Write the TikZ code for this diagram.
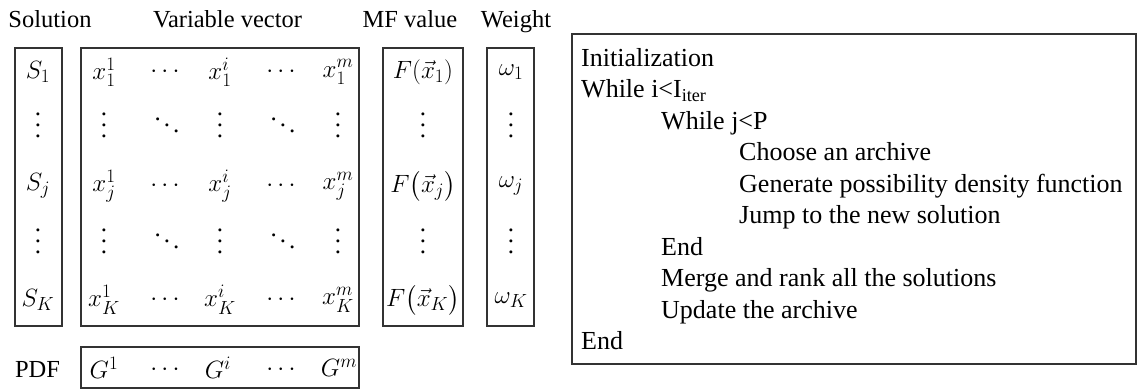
\RequirePackage{fix-cm}
\documentclass[tikz,border=0pt]{standalone}
\usepackage{amsmath}
\usepackage{fontspec}
\setmainfont{Liberation Serif}

% font sizes (1pt = one unit of the picture)
\newcommand\lblfont{\fontsize{24.5}{29}\selectfont}
\newcommand\cellfont{\fontsize{25}{29}\selectfont}
\newcommand\codefont{\fontsize{26}{31.5}\selectfont}
\DeclareMathSizes{25}{25}{19}{14}

% dot leaders scaled to the large type
\newcommand\vdotsbig{\vbox{\baselineskip=11pt\lineskiplimit=0pt
  \hbox{.}\hbox{.}\hbox{.}}}
\newcommand\ddotsbig{\hbox{\raisebox{12pt}{.}\kern3pt\raisebox{6pt}{.}\kern3pt.}}

\tikzset{
  frame/.style={draw=black!80, line width=1.6},
  lbl/.style={anchor=base, font=\lblfont, inner sep=0},
  cell/.style={font=\cellfont, inner sep=0},
  code/.style={anchor=base west, font=\codefont, inner sep=0},
}

\begin{document}
\begin{tikzpicture}[x=1pt, y=-1pt]
\useasboundingbox (0,0) rectangle (1137,389);

% column headings
\node[lbl] (hsol) at (50,27)    {Solution};
\node[lbl] (hvar) at (227.5,27) {Variable vector};
\node[lbl] (hmf)  at (410,27)   {MF value};
\node[lbl] (hw)   at (516,27)   {Weight};
\node[lbl] (hpdf) at (37.5,377) {PDF};

% frames of the archive table
\draw[frame] (15,48)  rectangle (62,326);
\draw[frame] (81,48)  rectangle (359,326);
\draw[frame] (383,48) rectangle (463,326);
\draw[frame] (487,48) rectangle (534,326);
\draw[frame] (81,347) rectangle (359,388);

% solution rows
\foreach \y/\s/\n in {72/1/a, 186/j/b, 300/K/c} {
  \node[cell] (s\n)  at (38,\y)  {$S_{\s}$};
  \node[cell] (x\n1) at (104,\y) {$x_{\s}^{1}$};
  \node[cell] (d\n1) at (167,\y) {$\cdots$};
  \node[cell] (x\n2) at (220,\y) {$x_{\s}^{i}$};
  \node[cell] (d\n2) at (283,\y) {$\cdots$};
  \node[cell] (x\n3) at (338,\y) {$x_{\s}^{m}$};
  \node[cell] (w\n)  at (511,\y) {$\omega_{\s}$};
}
\node[cell] (fa) at (423,72)  {$F(\vec{x}_1)$};
\node[cell] (fb) at (423,186) {$F\bigl(\vec{x}_j\bigr)$};
\node[cell] (fc) at (423,300) {$F\bigl(\vec{x}_K\bigr)$};

% rows of dots in between
\foreach \y/\n in {125/p, 241/q} {
  \node[cell] (s\n)  at (38,\y)  {\vdotsbig};
  \node[cell] (x\n1) at (104,\y) {\vdotsbig};
  \node[cell] (d\n1) at (167,\y) {\ddotsbig};
  \node[cell] (x\n2) at (220,\y) {\vdotsbig};
  \node[cell] (d\n2) at (283,\y) {\ddotsbig};
  \node[cell] (x\n3) at (338,\y) {\vdotsbig};
  \node[cell] (f\n)  at (423,\y) {\vdotsbig};
  \node[cell] (w\n)  at (511,\y) {\vdotsbig};
}

% probability density functions
\node[cell] (g1) at (104,368) {$G^{1}$};
\node[cell] (e1) at (167,370) {$\cdots$};
\node[cell] (g2) at (218,368) {$G^{i}$};
\node[cell] (e2) at (283,370) {$\cdots$};
\node[cell] (g3) at (339,368) {$G^{m}$};

% pseudo-code of the algorithm
\draw[frame] (572,34) rectangle (1136,364);
\node[code] (l0) at (581,66)    {Initialization};
\node[code] (l1) at (581,97.5)  {While i<I\textsubscript{iter}};
\node[code] (l2) at (661,129)   {While j<P};
\node[code] (l3) at (739,160.5) {Choose an archive};
\node[code] (l4) at (739,192)   {Generate possibility density function};
\node[code] (l5) at (739,223.5) {Jump to the new solution};
\node[code] (l6) at (661,255)   {End};
\node[code] (l7) at (661,286.5) {Merge and rank all the solutions};
\node[code] (l8) at (661,318)   {Update the archive};
\node[code] (l9) at (581,349.5) {End};
\end{tikzpicture}
\end{document}
